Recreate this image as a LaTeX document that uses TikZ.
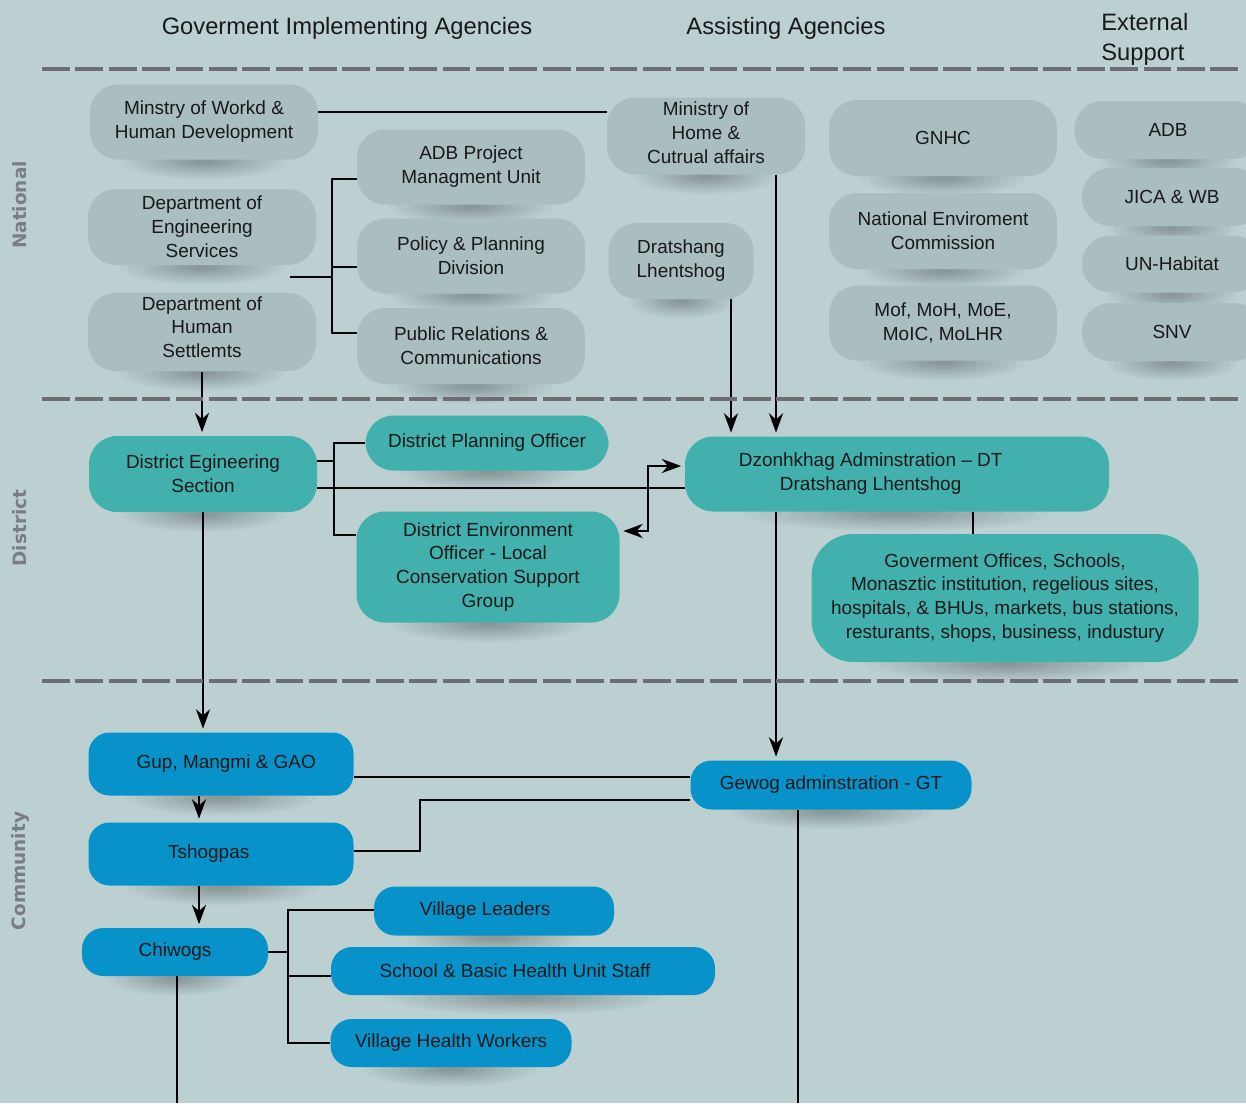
\documentclass[tikz,border=0pt]{standalone}
\usepackage{fontspec}
\setmainfont{Liberation Sans}
\newfontfamily\sidefont{DejaVu Sans}
\usetikzlibrary{arrows.meta,calc}

\definecolor{bgc}{HTML}{BCD0D2}
\definecolor{gryc}{HTML}{AABDBF}
\definecolor{tealc}{HTML}{42B0AC}
\definecolor{bluec}{HTML}{0793CA}
\definecolor{dashc}{HTML}{6D6E71}
\definecolor{sidec}{HTML}{7B7E81}
\definecolor{shc}{HTML}{889798}

\pgfdeclarelayer{back}
\pgfdeclarelayer{shade}
\pgfdeclarelayer{lines}
\pgfsetlayers{back,shade,lines,main}

\newcommand{\bxfont}{\fontsize{10.8}{13.6}\selectfont}
\newcommand{\hdfont}{\fontsize{13.5}{17}\selectfont}

\tikzset{sz/.style 2 args={minimum width=#1*0.02cm, minimum height=#2*0.02cm}}
\tikzstyle{gS}=[fill=gryc, rounded corners=16pt, inner sep=2pt, align=center, font=\bxfont, text=black!90]
\tikzstyle{tS}=[gS, fill=tealc]
\tikzstyle{bS}=[gS, fill=bluec, rounded corners=12pt]
\tikzstyle{hS}=[font=\hdfont, text=black!90, inner sep=0pt]
\tikzstyle{sS}=[font=\sidefont\bfseries\fontsize{10.5}{12}\selectfont, text=sidec, rotate=90, inner sep=0pt]
\tikzstyle{dS}=[line width=2.6pt, dashc, dash pattern=on 15.8pt off 3.2pt]
\tikzstyle{lS}=[line width=1.4pt, black]
\tikzstyle{aS}=[lS, -{Stealth[length=11pt,width=8pt,inset=3.5pt]}, shorten >=2pt]

\begin{document}
\begin{tikzpicture}[x=0.02cm, y=-0.02cm]
    \begin{pgfonlayer}{back}
        \fill[bgc] (0,0) rectangle (1246,1103);
    \end{pgfonlayer}
    \path[use as bounding box, clip] (0,0) rectangle (1246,1103);

    % level separators
    \foreach \yy in {69,399,681}
        \draw[dS] (42,\yy) -- (1240,\yy);

    % headers
    \node[hS] (hgov) at (347,28) {Goverment Implementing Agencies};
    \node[hS] (hass) at (786,28) {Assisting Agencies};
    \node[hS, anchor=west, align=left] (hext) at (1101,39) {External\\Support};
    \node[sS] (snat) at (20,205) {National};
    \node[sS] (sdis) at (20,528) {District};
    \node[sS] (scom) at (20,871) {Community};

    % national
    \node[gS, sz={228}{75}] (mwhd) at (204,122) {Minstry of Workd \&\\Human Development};
    \node[gS, sz={228}{76}] (des)  at (202,227) {Department of\\Engineering\\Services};
    \node[gS, sz={228}{76}] (dhs)  at (202,332) {Department of\\Human\\Settlemts\\[-8pt]};
    \node[gS, sz={228}{75}] (pmu)  at (471,167) {ADB Project\\Managment Unit};
    \node[gS, sz={228}{75}] (ppd)  at (471,256) {Policy \& Planning\\Division};
    \node[gS, sz={228}{76}] (prc)  at (471,346) {Public Relations \&\\Communications};
    \node[gS, sz={198}{77}] (mhca) at (706,136) {Ministry of\\Home \&\\Cutrual affairs\\[-10pt]};
    \node[gS, sz={145}{76}] (drat) at (681,261) {Dratshang\\Lhentshog};
    \node[gS, sz={228}{76}] (gnhc) at (943,138) {GNHC};
    \node[gS, sz={228}{76}] (nec)  at (943,231) {National Enviroment\\Commission};
    \node[gS, sz={228}{75}] (mof)  at (943,323) {Mof, MoH, MoE,\\MoIC, MoLHR};
    \node[gS, sz={187}{58}] (adb)  at (1168,130) {ADB};
    \node[gS, sz={180}{58}] (jica) at (1172,197) {JICA \& WB};
    \node[gS, sz={180}{57}] (unh)  at (1172,264) {UN-Habitat};
    \node[gS, sz={180}{58}] (snv)  at (1172,332) {SNV};

    % district
    \node[tS, sz={228}{76}]  (des2)  at (203,474) {District Egineering\\Section};
    \node[tS, sz={243}{55}]  (dpo)   at (487,443) {District Planning Officer};
    \node[tS, sz={263}{111}] (deo)   at (488,567) {District Environment\\Officer - Local\\Conservation Support\\Group};
    \node[tS, sz={424}{75}]  (dzong) at (897,474) {Dzonhkhag Adminstration -- DT\hspace*{30pt}\\Dratshang Lhentshog\hspace*{30pt}};
    \node[tS, sz={387}{128}, rounded corners=24pt] (gov) at (1005,598) {Goverment Offices, Schools,\\Monasztic institution, regelious sites,\\hospitals, \& BHUs, markets, bus stations,\\resturants, shops, business, industury};

    % community
    \node[bS, sz={265}{63}] (gup)   at (221,764) {\hspace*{6pt}Gup, Mangmi \& GAO};
    \node[bS, sz={281}{49}] (gewog) at (831,785) {Gewog adminstration - GT};
    \node[bS, sz={265}{63}] (tshog) at (221,854) {Tshogpas\hspace*{14pt}};
    \node[bS, sz={186}{48}] (chiw)  at (175,952) {Chiwogs};
    \node[bS, sz={240}{49}] (vl)    at (494,911) {Village Leaders\hspace*{10pt}};
    \node[bS, sz={384}{48}] (sbh)   at (523,971) {School \& Basic Health Unit Staff\hspace*{9pt}};
    \node[bS, sz={241}{48}] (vhw)   at (451,1043) {Village Health Workers};

    \coordinate (dep) at (290,277);
    \coordinate (bj) at (332,277);
    \coordinate (dj) at (334,461);
    \coordinate (cj) at (288,952);
    \coordinate (endL) at (177,1103);
    \coordinate (endR) at (798,1103);

    % soft shadows under the boxes
    \begin{pgfonlayer}{shade}
        \foreach \nd in {mwhd,des,dhs,pmu,ppd,prc,mhca,drat,gnhc,nec,mof,adb,jica,unh,snv,des2,dpo,deo,dzong,gov,gup,gewog,tshog,chiw,vl,sbh,vhw}{
            \foreach \k [evaluate=\k as \pc using int(10*\k), evaluate=\k as \sc using 1-(\k-1)/10] in {1,...,10}
                \fill[shc!\pc!bgc] let \p1=($(\nd.east)-(\nd.west)$) in ([yshift=-1pt]\nd.south) ellipse ({0.36*\sc*\x1} and {10pt*\sc});
        }
    \end{pgfonlayer}

    % connectors
    \begin{pgfonlayer}{lines}
        \draw[lS] (mwhd.east |- 0,112) -- (mhca.west |- 0,112);
        \draw[lS] (dep) -- (bj);
        \draw[lS] (pmu.west |- 0,179) -| (bj) |- (prc.west |- 0,333);
        \draw[lS] (ppd.west |- 0,267) -- (bj |- 0,267);
        \draw[aS] (dhs.south) -- (dhs.south |- des2.north);
        \draw[aS] (drat.south -| 731,0) -- (dzong.north -| 731,0);
        \draw[aS] (mhca.south -| 776,0) -- (dzong.north -| 776,0);

        \draw[lS] (des2.east |- 0,461) -- (dj);
        \draw[lS] (dpo.west) -| (dj) |- (deo.west |- 0,535);
        \draw[lS] (des2.east |- 0,488) -- (dzong.west |- 0,488);
        \draw[lS, {Stealth[length=11pt,width=8pt,inset=3.5pt]}-{Stealth[length=11pt,width=8pt,inset=3.5pt]}, shorten <=2pt, shorten >=2pt]
            (deo.east |- 0,531) -- ++(28,0) |- (dzong.west |- 0,466);
        \draw[lS] (dzong.south -| 973,0) -- (gov.north -| 973,0);
        \draw[aS] (des2.south) -- (des2.south |- gup.north);
        \draw[aS] (dzong.south -| 776,0) -- (gewog.north -| 776,0);

        \draw[lS] (gup.east |- 0,777) -- (gewog.west |- 0,777);
        \draw[lS] (tshog.east |- 0,851) -- ++(66,0) |- (gewog.west |- 0,800);
        \draw[aS] (gup.south -| 199,0) -- (tshog.north -| 199,0);
        \draw[aS] (tshog.south -| 199,0) -- (chiw.north -| 199,0);
        \draw[lS] (chiw.east) -- (cj);
        \draw[lS] (vl.west |- 0,910) -| (cj) |- (vhw.west);
        \draw[lS] (sbh.west |- 0,976) -- (cj |- 0,976);
        \draw[lS] (chiw.south -| 177,0) -- (endL);
        \draw[lS] (gewog.south -| 798,0) -- (endR);
    \end{pgfonlayer}
\end{tikzpicture}
\end{document}
